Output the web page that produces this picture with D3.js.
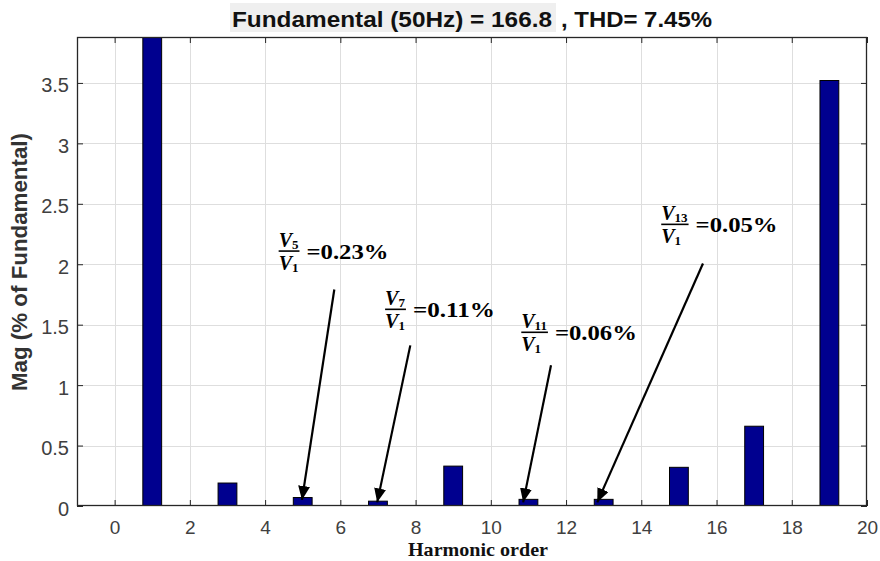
<!DOCTYPE html>
<html><head><meta charset="utf-8">
<script src="https://cdn.jsdelivr.net/npm/d3@7"></script>
<style>body{margin:0;background:#fff;} svg{display:block;}</style>
</head><body><svg id="chart" width="880" height="561"></svg>
<script>
// ---- data ----
const harmonicOrder = [0,1,2,3,4,5,6,7,8,9,10,11,12,13,14,15,16,17,18,19];
const magnitude     = [0,100,0,0.19,0,0.07,0,0.04,0,0.33,0,0.055,0,0.055,0,0.32,0,0.66,0,3.52];
const xTickValues = [0,2,4,6,8,10,12,14,16,18,20];
const yTickValues = [0,0.5,1,1.5,2,2.5,3,3.5];
const titleMain = "Fundamental (50Hz) = 166.8";
const titleRest = ", THD= 7.45%";
const xLabel = "Harmonic order";
const yLabel = "Mag (% of Fundamental)";
// annotation labels and arrows (data coordinates)
const annHarmonic = ["5","7","11","13"];
const annText = ["=0.23%","=0.11%","=0.06%","=0.05%"];
const annLabelX = [4.36, 7.19, 10.81, 14.53];
const annLabelY = [2.109, 1.627, 1.437, 2.33];
const annFrom = [[5.84,1.791],[7.86,1.329],[11.60,1.164],[15.64,2.006]];
const annTo   = [[4.98,0.05],[6.98,0.03],[10.86,0.03],[12.83,0.03]];

// ---- layout ----
const svg = d3.select("#chart");
const L = 77, R = 867, T = 37, B = 506;
const x = d3.scaleLinear().domain([-1, 20]).range([L, R]);
const y = d3.scaleLinear().domain([0, 3.88]).range([B, T]);
const axisColor = "#262626";
const barW = x(0.5) - x(0);
const sans = "'Liberation Sans', Arial, sans-serif";
const serif = "'Liberation Serif', 'Times New Roman', serif";

// clip
const defs = svg.append("defs");
defs.append("clipPath").attr("id","plotclip")
  .append("rect").attr("x",L).attr("y",T).attr("width",R-L).attr("height",B-T);

// arrow marker
defs.append("marker").attr("id","ah")
  .attr("viewBox","0 0 14 12").attr("refX",14).attr("refY",6)
  .attr("markerWidth",14).attr("markerHeight",12)
  .attr("markerUnits","userSpaceOnUse").attr("orient","auto")
  .append("path").attr("d","M0,0 L14,6 L0,12 Z").attr("fill","#000");

// grid
const grid = svg.append("g");
grid.selectAll(".gx").data(xTickValues.filter(d => d < 20)).join("line")
  .attr("x1", d => Math.round(x(d)) + 0.5).attr("x2", d => Math.round(x(d)) + 0.5)
  .attr("y1", T).attr("y2", B).attr("stroke", "#dedede").attr("stroke-width", 1);
grid.selectAll(".gy").data(yTickValues.filter(d => d > 0)).join("line")
  .attr("y1", d => Math.round(y(d)) + 0.5).attr("y2", d => Math.round(y(d)) + 0.5)
  .attr("x1", L).attr("x2", R).attr("stroke", "#dedede").attr("stroke-width", 1);

// bars
svg.append("g").attr("clip-path","url(#plotclip)")
  .selectAll("rect").data(harmonicOrder.map((h,i)=>({h, v: magnitude[i]})).filter(d => d.v > 0))
  .join("rect")
  .attr("x", d => x(d.h) - barW/2)
  .attr("width", barW)
  .attr("y", d => y(d.v))
  .attr("height", d => y(0) - y(d.v) + 2)
  .attr("fill", "#00008f")
  .attr("stroke", "#000").attr("stroke-width", 1);

// axes
function styleAxis(g){
  g.select(".domain").remove();
  g.selectAll(".tick line").attr("stroke", axisColor).attr("stroke-width", 1);
  g.selectAll(".tick text").attr("fill", "#404040")
    .style("font-family", sans).style("font-size", "20px");
}
svg.append("g").attr("transform", `translate(0,${B})`)
  .call(d3.axisBottom(x).tickValues(xTickValues).tickSize(-6).tickPadding(15).tickFormat(d3.format("d")))
  .call(styleAxis)
  .call(g => g.selectAll(".tick text").style("font-size", "19px"));
svg.append("g").attr("transform", `translate(0,${T})`)
  .call(d3.axisTop(x).tickValues(xTickValues).tickSize(-6).tickFormat(""))
  .call(styleAxis);
svg.append("g").attr("transform", `translate(${L},0)`)
  .call(d3.axisLeft(y).tickValues(yTickValues).tickSize(-6).tickPadding(8).tickFormat(d => d3.format("")(d)))
  .call(styleAxis)
  .call(g => g.selectAll(".tick text").attr("dy", "0.45em"));
svg.append("g").attr("transform", `translate(${R},0)`)
  .call(d3.axisRight(y).tickValues(yTickValues).tickSize(-6).tickFormat(""))
  .call(styleAxis);

// box
svg.append("rect").attr("x", L + 0.5).attr("y", T + 0.5).attr("width", R - L - 1).attr("height", B - T - 1)
  .attr("fill", "none").attr("stroke", axisColor).attr("stroke-width", 1.3);

// title
svg.append("rect").attr("x", 230).attr("y", 3).attr("width", 326).attr("height", 29).attr("fill", "#efefef");
svg.append("text").attr("x", 232).attr("y", 27).text(titleMain)
  .attr("textLength", 320).attr("lengthAdjust", "spacingAndGlyphs")
  .style("font-family", sans).style("font-size", "22px").style("font-weight", "bold")
  .attr("fill", "#111");
svg.append("text").attr("x", 561).attr("y", 27).text(titleRest)
  .attr("textLength", 151).attr("lengthAdjust", "spacingAndGlyphs")
  .style("font-family", sans).style("font-size", "22px").style("font-weight", "bold")
  .attr("fill", "#111");

// y label
svg.append("text").attr("transform", `translate(27,${(133+391)/2}) rotate(-90)`)
  .attr("text-anchor", "middle").text(yLabel)
  .attr("textLength", 258).attr("lengthAdjust", "spacingAndGlyphs")
  .style("font-family", sans).style("font-size", "22px").style("font-weight", "bold")
  .attr("fill", "#333");

// x label
svg.append("text").attr("x", 478).attr("y", 556).attr("text-anchor", "middle").text(xLabel)
  .attr("textLength", 140).attr("lengthAdjust", "spacingAndGlyphs")
  .style("font-family", serif).style("font-size", "19px").style("font-weight", "bold")
  .attr("fill", "#111");

// annotations
const ann = svg.append("g");
annHarmonic.forEach((h, i) => {
  const px = x(annLabelX[i]), py = y(annLabelY[i]);
  const g = ann.append("g").attr("transform", `translate(${px},${py})`);
  const num = g.append("text").attr("x", 0).attr("y", -4)
    .style("font-family", serif).style("font-size", "20px").style("font-weight", "bold");
  num.append("tspan").text("V").style("font-style", "italic");
  num.append("tspan").text(h).attr("dy", 2).style("font-size", "13px");
  const den = g.append("text").attr("x", 0).attr("y", 19)
    .style("font-family", serif).style("font-size", "20px").style("font-weight", "bold");
  den.append("tspan").text("V").style("font-style", "italic");
  den.append("tspan").text("1").attr("dy", 2).style("font-size", "13px");
  const w = Math.max(num.node().getComputedTextLength(), den.node().getComputedTextLength()) + 1;
  g.append("line").attr("x1", 0).attr("x2", w).attr("y1", 0).attr("y2", 0)
    .attr("stroke", "#000").attr("stroke-width", 1.6);
  g.append("text").attr("x", w + 7).attr("y", 8).text(annText[i])
    .attr("textLength", 82).attr("lengthAdjust", "spacingAndGlyphs")
    .style("font-family", serif).style("font-size", "21px").style("font-weight", "bold");
  ann.append("line")
    .attr("x1", x(annFrom[i][0])).attr("y1", y(annFrom[i][1]))
    .attr("x2", x(annTo[i][0])).attr("y2", y(annTo[i][1]))
    .attr("stroke", "#000").attr("stroke-width", 2.2).attr("marker-end", "url(#ah)");
});
</script>
</body></html>
